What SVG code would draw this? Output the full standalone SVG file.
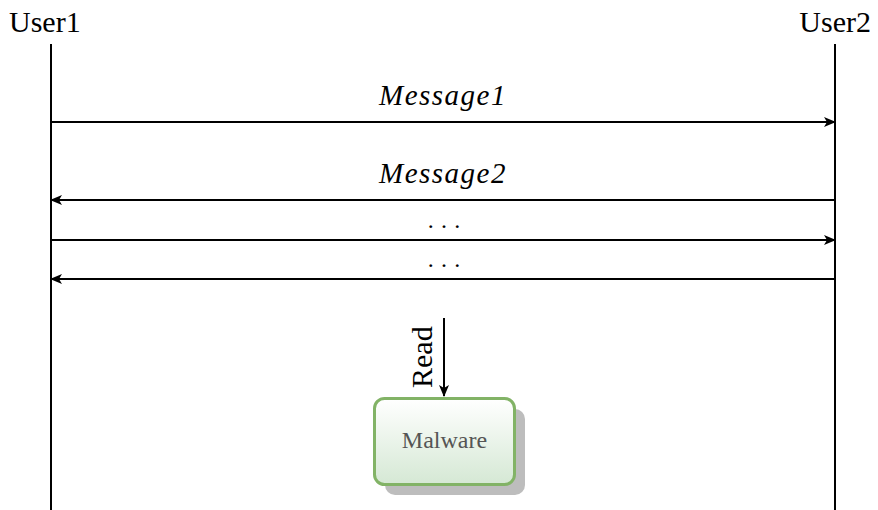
<svg xmlns="http://www.w3.org/2000/svg" width="878" height="510" viewBox="0 0 878 510">
<style>
.t{font-family:"Liberation Serif","DejaVu Serif",serif;fill:#000}
.life{stroke:#000;stroke-width:2}
.msg{stroke:#000;stroke-width:2;fill:none}
.dots{font-size:24px;letter-spacing:7.3px}
</style>
<defs>
<marker id="ah" viewBox="0 0 12 10" refX="11" refY="5" markerWidth="12" markerHeight="10" markerUnits="userSpaceOnUse" orient="auto">
<path d="M0,0 L12,5 L0,10 L3,5 Z" fill="#000"/>
</marker>
<linearGradient id="g" x1="0" y1="0" x2="0" y2="1">
<stop offset="0" stop-color="#ffffff"/>
<stop offset="1" stop-color="#d5e8d4"/>
</linearGradient>
</defs>
<rect width="878" height="510" fill="#fff"/>
<g id="user1">
<text class="t" x="9" y="32" font-size="30">User1</text>
<line class="life" x1="51" y1="44" x2="51" y2="510"/>
</g>
<g id="user2">
<text class="t" x="871" y="32" font-size="30" text-anchor="end">User2</text>
<line class="life" x1="835" y1="44" x2="835" y2="510"/>
</g>
<g id="connectors">
<line class="msg" x1="51" y1="122" x2="835" y2="122" marker-end="url(#ah)"/>
<text class="t" x="443" y="105" font-size="29" font-style="italic" letter-spacing="1.5" text-anchor="middle">Message1</text>
<line class="msg" x1="835" y1="200" x2="51" y2="200" marker-end="url(#ah)"/>
<text class="t" x="443" y="183" font-size="29" font-style="italic" letter-spacing="1.5" text-anchor="middle">Message2</text>
<line class="msg" x1="51" y1="240" x2="835" y2="240" marker-end="url(#ah)"/>
<text class="t dots" x="427.7" y="228.3">...</text>
<line class="msg" x1="835" y1="279" x2="51" y2="279" marker-end="url(#ah)"/>
<text class="t dots" x="427.7" y="267.3">...</text>
<line class="msg" x1="444" y1="318" x2="444" y2="396" marker-end="url(#ah)"/>
<text class="t" x="0" y="0" font-size="30" transform="translate(432,388) rotate(-90)">Read</text>
</g>
<g id="malware">
<rect x="385" y="409" width="140" height="86" rx="10" fill="#bdbdbd"/>
<rect x="374.5" y="398.5" width="140" height="86" rx="10" fill="url(#g)" stroke="#82b366" stroke-width="3"/>
<text class="t" x="444.5" y="448" font-size="24" style="fill:#555" text-anchor="middle">Malware</text>
</g>
</svg>
